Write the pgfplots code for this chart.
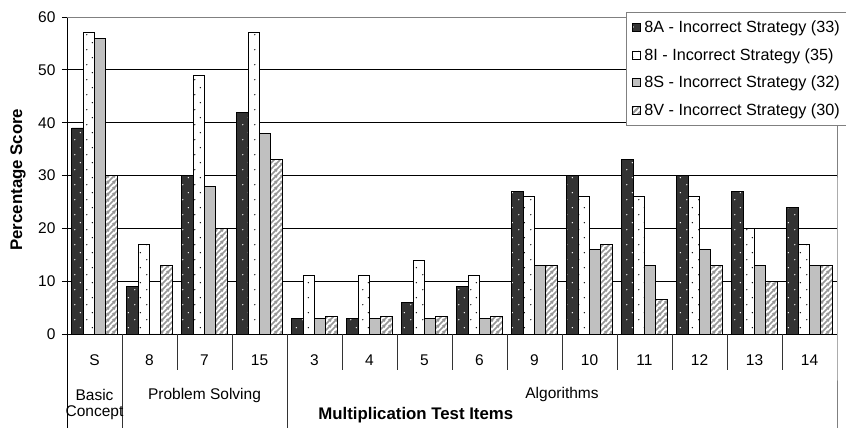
\documentclass[border=0pt]{standalone}
\usepackage{fontspec}
\setmainfont{Liberation Sans}
\usepackage{pgfplots}
\pgfplotsset{compat=1.18}
\usepackage{pgfplotstable}
\usetikzlibrary{patterns.meta}

\newcommand\fs{\fontsize{15.5}{18}\selectfont}
\newcommand\fsleg{\fontsize{16.2}{19}\selectfont}
\newcommand\fstitle{\fontsize{16.8}{20}\selectfont}

\definecolor{darkbar}{RGB}{51,51,51}
\definecolor{silverbar}{RGB}{192,192,192}
\definecolor{hatchgray}{RGB}{150,150,150}
\definecolor{framegray}{RGB}{128,128,128}

% staggered sparse dots used on the 8A and 8I bars
\tikzdeclarepattern{
  name=sparse dots,
  type=uncolored,
  bounding box={(0pt,0pt) and (12pt,15pt)},
  tile size={(12pt,15pt)},
  code={\fill (3pt,3.5pt) circle (0.75pt); \fill (9pt,11pt) circle (0.75pt);}
}
% broad diagonal stripes used on the 8V bars
\tikzdeclarepattern{
  name=broad stripes,
  type=uncolored,
  bounding box={(0pt,0pt) and (6pt,6pt)},
  tile size={(6pt,6pt)},
  code={
    \draw[line width=2pt] (-1pt,-1pt) -- (7pt,7pt);
    \draw[line width=2pt] (-1pt,5pt) -- (1pt,7pt);
    \draw[line width=2pt] (5pt,-1pt) -- (7pt,1pt);
  }
}

% square legend swatches for bar plots
\pgfplotsset{/pgfplots/ybar legend/.style={/pgfplots/legend image code/.code={%
  \draw[##1] (0pt,-4pt) rectangle (8pt,4pt);}}}

% percentage of each class using an incorrect strategy, per test item
\pgfplotstableread{
idx  A   I   S   V
0    39  57  56  30
1    9   17  0   13
2    30  49  28  20
3    42  57  38  33
4    3   11  3   3.3
5    3   11  3   3.3
6    6   14  3   3.3
7    9   11  3   3.3
8    27  26  13  13
9    30  26  16  17
10   33  26  13  6.6
11   30  26  16  13
12   27  20  13  10
13   24  17  13  13
}\scores

\begin{document}
\begin{tikzpicture}
\begin{axis}[
  at={(67pt,94pt)}, anchor=south west,
  scale only axis, width=770pt, height=317pt,
  xmin=-0.5, xmax=13.5, ymin=0, ymax=60,
  ybar=0pt, bar width=11.3pt,
  axis lines*=left,
  axis line style={-, black, line width=0.8pt},
  ytick={0,10,...,60},
  ymajorgrids, major grid style={black, line width=0.7pt},
  tick align=outside, major tick length=5pt,
  y tick style={black, line width=0.8pt},
  x tick style={draw=none},
  xtick={0,...,13},
  xticklabels={S,8,7,15,3,4,5,6,9,10,11,12,13,14},
  /pgf/number format/assume math mode=true,
  tick label style={font=\fs},
  yticklabel style={xshift=-3pt},
  xticklabel style={anchor=base, yshift=-26pt},
  ylabel={Percentage Score},
  ylabel style={font=\bfseries\fstitle, at={(rel axis cs:0,0.487)}, yshift=49pt, anchor=center},
  xlabel={Multiplication Test Items},
  xlabel style={font=\bfseries\fstitle, at={(rel axis cs:0.453,0)}, yshift=-81pt, anchor=center},
  legend style={at={(rel axis cs:1,1)}, anchor=north east, xshift=10pt, yshift=5pt,
    draw=framegray, fill=white, font=\fsleg, row sep=0pt, inner xsep=5pt, inner ysep=1.2pt,
    nodes={minimum height=27.7pt},
    /tikz/every odd column/.append style={column sep=2pt}},
  legend cell align=left,
  clip=false,
]
\addplot[draw=black, line width=0.9pt, preaction={fill=darkbar},
  pattern=sparse dots, pattern color=white]
  table[x=idx, y=A]{\scores};
\addplot[draw=black, line width=0.9pt, preaction={fill=white},
  pattern=sparse dots, pattern color=black]
  table[x=idx, y=I]{\scores};
\addplot[draw=black, line width=0.9pt, fill=silverbar]
  table[x=idx, y=S]{\scores};
\addplot[draw=black, line width=0.9pt, preaction={fill=white},
  pattern=broad stripes, pattern color=hatchgray]
  table[x=idx, y=V]{\scores};
\legend{8A - Incorrect Strategy (33), 8I - Incorrect Strategy (35),
        8S - Incorrect Strategy (32), 8V - Incorrect Strategy (30)}

% frame: grey top and right edge, the right edge running down through the label area
\draw[framegray, line width=0.8pt] (axis cs:-0.5,60) -- (axis cs:13.5,60) -- (axis cs:13.5,0) -- ([yshift=-94pt]axis cs:13.5,0);
% group separators
\draw[black, line width=0.8pt] (axis cs:-0.5,0) -- ([yshift=-94pt]axis cs:-0.5,0);
\draw[black!80, line width=0.8pt] (axis cs:0.5,0) -- ([yshift=-94pt]axis cs:0.5,0);
\draw[black!80, line width=0.8pt] (axis cs:3.5,0) -- ([yshift=-94pt]axis cs:3.5,0);
% item separators
\pgfplotsinvokeforeach{1.5,2.5,4.5,5.5,6.5,7.5,8.5,9.5,10.5,11.5,12.5}{
  \draw[black!80, line width=0.8pt] (axis cs:#1,0) -- ([yshift=-36pt]axis cs:#1,0);
}
% group names
\node[font=\fs] at ([yshift=-61pt]axis cs:0,0) {Basic};
\node[font=\fs] at ([yshift=-79pt]axis cs:0,0) {Concept};
\node[font=\fs] at ([yshift=-61pt]axis cs:2,0) {Problem Solving};
\node[font=\fs] at ([yshift=-60pt]axis cs:8.5,0) {Algorithms};
\end{axis}
\pgfresetboundingbox
\useasboundingbox (0,0) rectangle (846pt,428pt);
\end{tikzpicture}
\end{document}
